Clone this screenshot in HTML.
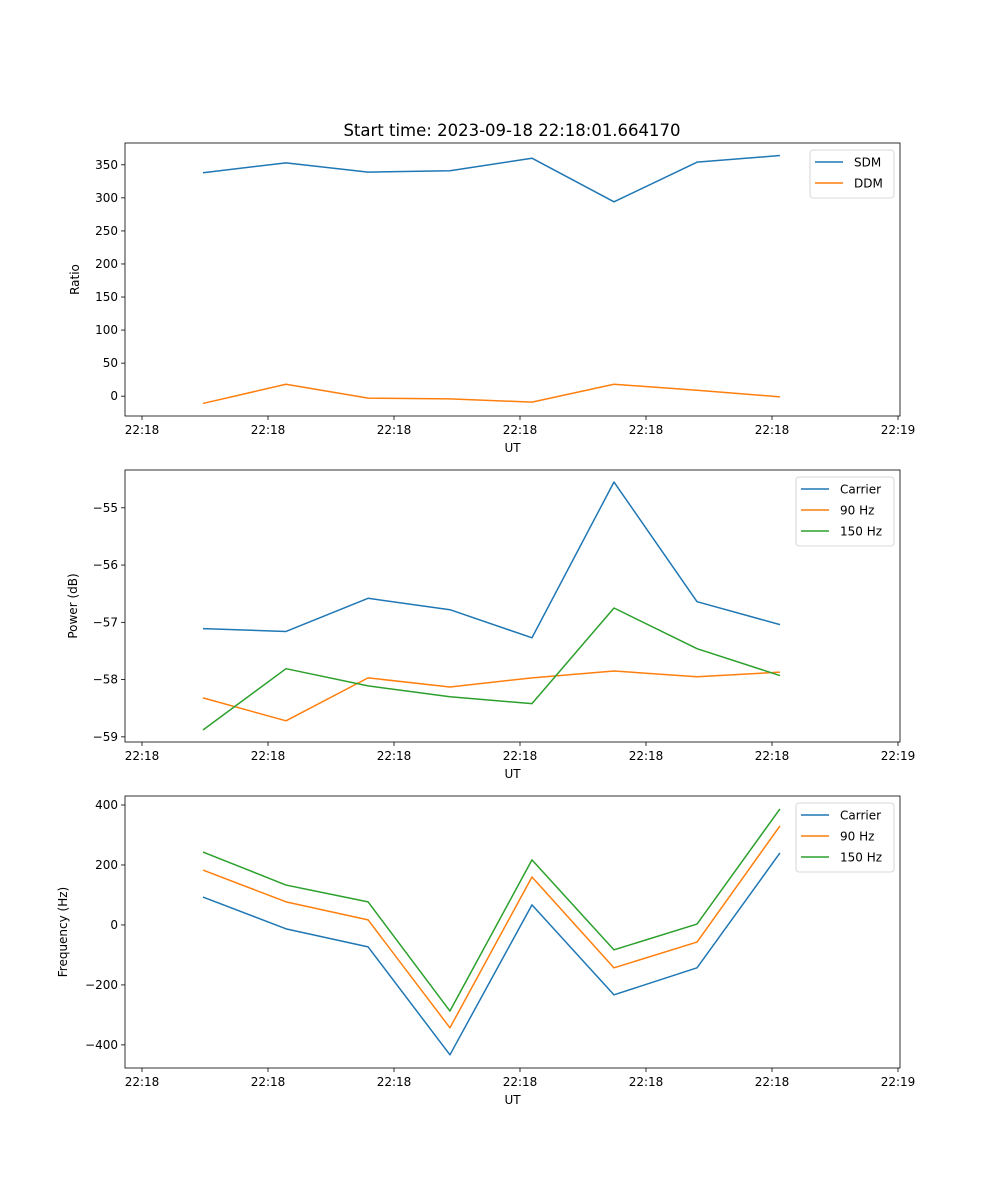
<!DOCTYPE html>
<html><head><meta charset="utf-8"><style>
html,body{margin:0;padding:0;background:#fff;}
svg{display:block;font-family:"DejaVu Sans","Liberation Sans",sans-serif;}
</style></head><body>
<svg id="fig" width="1000" height="1200" viewBox="0 0 1000 1200"></svg>
<script>
// shared x data (time units; 1 unit = one tick interval)
const times = [0.484, 1.143, 1.794, 2.444, 3.095, 3.746, 4.405, 5.063];
const xTickLabels = ["22:18","22:18","22:18","22:18","22:18","22:18","22:19"];
// panel 1
const sdm = [338, 353, 339, 341, 360, 294, 354, 364];
const ddm = [-11, 18, -3, -4, -9, 18, 9, -1];
const ratioTicks = [0, 50, 100, 150, 200, 250, 300, 350];
// panel 2
const pCarrier = [-57.11, -57.16, -56.58, -56.78, -57.27, -54.55, -56.64, -57.04];
const p90 = [-58.32, -58.72, -57.97, -58.13, -57.97, -57.85, -57.95, -57.87];
const p150 = [-58.88, -57.81, -58.11, -58.30, -58.42, -56.75, -57.46, -57.93];
const powerTicks = [-59, -58, -57, -56, -55];
// panel 3
const fCarrier = [93, -13, -73, -433, 67, -233, -143, 240];
const f90 = [183, 77, 17, -343, 160, -143, -57, 330];
const f150 = [243, 133, 77, -287, 217, -83, 3, 387];
const freqTicks = [-400, -200, 0, 200, 400];

const NS = "http://www.w3.org/2000/svg";
const svg = document.getElementById("fig");
function mk(tag, attrs, parent) {
  const e = document.createElementNS(NS, tag);
  for (const k in attrs) e.setAttribute(k, attrs[k]);
  (parent || svg).appendChild(e);
  return e;
}
const C = ["#1f77b4", "#ff7f0e", "#2ca02c"];
const L = 125, R = 900;
const xScale = t => 142 + t * 126;

function panel(name, top, bottom, ymin, ymax, yTicks, yLabel, series, legend) {
  const g = mk("g", {});
  
  
  const ys = v => bottom - (v - ymin) / (ymax - ymin) * (bottom - top);
  xTickLabels.forEach((lab, i) => {
    const x = xScale(i);
    mk("line", {x1: x, x2: x, y1: bottom, y2: bottom + 4, stroke: "#000", "stroke-width": 0.8}, g);
    const t = mk("text", {x: x, y: bottom + 18, "font-size": 12, "text-anchor": "middle"}, g);
    t.textContent = lab;
    
    
  });
  const xl = mk("text", {x: (L + R) / 2, y: bottom + 36, "font-size": 12, "text-anchor": "middle"}, g);
  xl.textContent = "UT";
  
  
  yTicks.forEach(v => {
    const y = ys(v);
    mk("line", {x1: L - 4, x2: L, y1: y, y2: y, stroke: "#000", "stroke-width": 0.8}, g);
    const t = mk("text", {x: L - 7, y: y + 4, "font-size": 12, "text-anchor": "end"}, g);
    t.textContent = v < 0 ? "\u2212" + Math.abs(v) : String(v);
    
    
  });
  const yl = mk("text", {x: 0, y: 0, "font-size": 12, "text-anchor": "middle",
    transform: `translate(${yTicks[0] <= -100 ? 67 : (ymin < -50 ? 77 : 79)},${(top + bottom) / 2}) rotate(-90)`}, g);
  yl.textContent = yLabel;
  
  
  series.forEach((s, k) => {
    const p = mk("polyline", {points: s.map((v, i) => xScale(times[i]) + "," + ys(v)).join(" "),
      fill: "none", stroke: C[k], "stroke-width": 1.5, "stroke-linejoin": "round"}, g);
    
    
  });
  mk("rect", {x: L, y: top, width: R - L, height: bottom - top, fill: "none", stroke: "#000", "stroke-width": 0.8}, g);
  const w = legend.length === 2 ? 84 : 98;
  const lx = R - 6 - w, ly = top + 7;
  const lg = mk("g", {}, g);
  
  
  mk("rect", {x: lx, y: ly, width: w, height: 10 + legend.length * 21 - 4, rx: 3, fill: "#fff", "fill-opacity": 0.8, stroke: "#ccc", "stroke-width": 0.8}, lg);
  legend.forEach((lab, k) => {
    const y = ly + 12 + k * 21;
    mk("line", {x1: lx + 5, x2: lx + 33, y1: y, y2: y, stroke: C[k], "stroke-width": 1.5}, lg);
    const t = mk("text", {x: lx + 44, y: y + 4.5, "font-size": 12}, lg);
    t.textContent = lab;
    
    
  });
}

const title = mk("text", {x: 512, y: 136, "font-size": 16.5, "text-anchor": "middle"});
title.textContent = "Start time: 2023-09-18 22:18:01.664170";



panel("ratio-panel", 143, 416, -30, 383, ratioTicks, "Ratio", [sdm, ddm], ["SDM", "DDM"]);
panel("power-panel", 470, 742, -59.09, -54.34, powerTicks, "Power (dB)", [pCarrier, p90, p150], ["Carrier", "90 Hz", "150 Hz"]);
panel("frequency-panel", 796, 1068, -477, 430, freqTicks, "Frequency (Hz)", [fCarrier, f90, f150], ["Carrier", "90 Hz", "150 Hz"]);
</script>
</body></html>
